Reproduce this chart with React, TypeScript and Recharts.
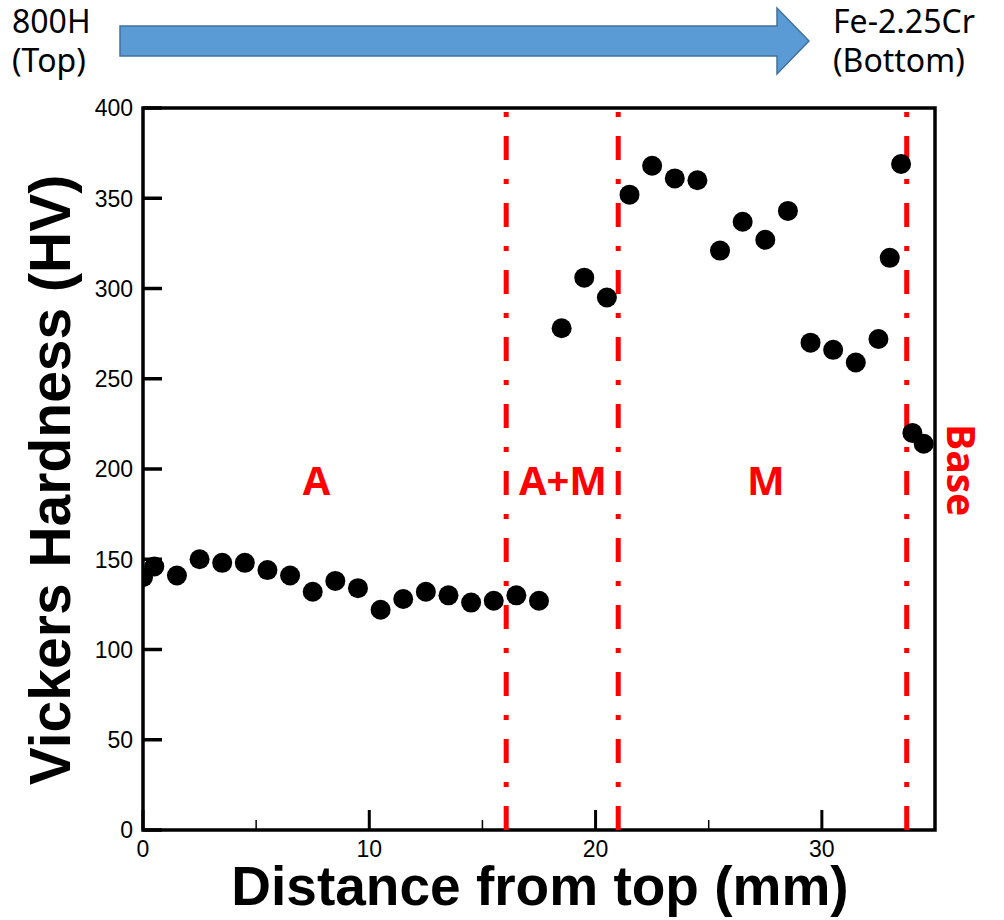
import React from 'react';
import {
  ScatterChart,
  Scatter,
  XAxis,
  YAxis,
  ReferenceLine,
  ReferenceArea,
  ReferenceDot,
} from 'recharts';

// ---- data ----
const distance = [
  0, 0.5, 1.5, 2.5, 3.5, 4.5, 5.5, 6.5, 7.5, 8.5, 9.5, 10.5, 11.5, 12.5, 13.5, 14.5, 15.5, 16.5, 17.5,
  18.5, 19.5, 20.5, 21.5, 22.5, 23.5, 24.5, 25.5, 26.5, 27.5, 28.5, 29.5, 30.5, 31.5, 32.5, 33, 33.5, 34, 34.5,
];
const hardness = [
  140, 146, 141, 150, 148, 148, 144, 141, 132, 138, 134, 122, 128, 132, 130, 126, 127, 130, 127,
  278, 306, 295, 352, 368, 361, 360, 321, 337, 327, 343, 270, 266, 259, 272, 317, 369, 220, 214,
];
const xTicks = [0, 5, 10, 15, 20, 25, 30];
const yTicks = [0, 50, 100, 150, 200, 250, 300, 350, 400];
const boundaries = [16.05, 21, 33.75];
const regionNames = ['A', 'A+M', 'M'];
const regionX = [7.67, 18.56, 27.53];
const regionY = 185.6;
const baseLabel = 'Base';
const baseX = 35.53;
const baseY = 199.4;
const xTitle = 'Distance from top (mm)';
const yTitle = 'Vickers Hardness (HV)';
const topLeft = ['800H', '(Top)'];
const topRight = ['Fe-2.25Cr', '(Bottom)'];

const data = distance.map((d, i) => ({ x: d, y: hardness[i] }));

const TICK_FONT = '"Liberation Sans", Arial, sans-serif';

const XTick = (props: any) => {
  const { x, y, payload } = props;
  const v = payload.value;
  const major = v % 10 === 0;
  return (
    <g>
      <line x1={x} x2={x} y1={y} y2={y - (major ? 20 : 10)} stroke="#000" strokeWidth={major ? 3 : 1.5} />
      {major && (
        <text x={x} y={y + 27} textAnchor="middle" fontSize={23} fontFamily={TICK_FONT} fill="#000">
          {v}
        </text>
      )}
    </g>
  );
};

const YTick = (props: any) => {
  const { x, y, payload } = props;
  return (
    <g>
      <line x1={x} x2={x + 19} y1={y} y2={y} stroke="#000" strokeWidth={3.5} />
      <text x={x - 10} y={y} dy="0.36em" textAnchor="end" fontSize={23} fontFamily={TICK_FONT} fill="#000">
        {payload.value}
      </text>
    </g>
  );
};

const Dot = (props: any) => <circle cx={props.cx} cy={props.cy} r={10} fill="#000" />;

const regionLabel = (text: string) => (props: any) => (
  <text
    x={props.cx}
    y={props.cy}
    textAnchor="middle"
    fontSize={40}
    fontWeight="bold"
    fontFamily='"Open Sans", sans-serif'
    fill="#ff0000"
  >
    {text}
  </text>
);

const baseShape = (props: any) => (
  <text
    x={props.cx}
    y={props.cy}
    transform={`rotate(90, ${props.cx}, ${props.cy})`}
    textAnchor="middle"
    fontSize={39}
    fontWeight="bold"
    fontFamily='"Open Sans", sans-serif'
    fill="#ff0000"
  >
    {baseLabel}
  </text>
);

export default function App() {
  return (
    <div style={{ position: 'absolute', left: 0, top: 0, width: 1004, height: 920, background: '#fff' }}>
      <ScatterChart
        width={1004}
        height={920}
        margin={{ top: 108, right: 69, bottom: 89, left: 142 }}
      >
        <XAxis
          type="number"
          dataKey="x"
          domain={[0, 35]}
          ticks={xTicks}
          interval={0}
          height={1}
          tickSize={0}
          tickMargin={0}
          axisLine={false}
          tickLine={false}
          tick={<XTick />}
          allowDataOverflow
        />
        <YAxis
          type="number"
          dataKey="y"
          domain={[0, 400]}
          ticks={yTicks}
          interval={0}
          width={1}
          tickSize={0}
          tickMargin={0}
          axisLine={false}
          tickLine={false}
          tick={<YTick />}
          allowDataOverflow
        />
        {boundaries.map((b) => (
          <ReferenceLine
            key={b}
            x={b}
            stroke="#ff0000"
            strokeWidth={5}
            strokeDasharray="24 19 5 19"
          />
        ))}
        <ReferenceArea x1={0} x2={35} y1={0} y2={400} fill="none" stroke="#000" strokeWidth={3.5} />
        {regionNames.map((n, i) => (
          <ReferenceDot key={n} x={regionX[i]} y={regionY} r={0} shape={regionLabel(n)} ifOverflow="visible" />
        ))}
        <ReferenceDot x={baseX} y={baseY} r={0} shape={baseShape} ifOverflow="visible" />
        <Scatter data={data} fill="#000" shape={<Dot />} isAnimationActive={false} />
      </ScatterChart>
      <svg
        width={1004}
        height={920}
        style={{ position: 'absolute', left: 0, top: 0, pointerEvents: 'none' }}
      >
        <polygon
          points="120,26 777,26 777,8 809,41 777,74 777,56 120,56"
          fill="#5b9bd5"
          stroke="#41719c"
          strokeWidth={1.5}
        />
        <g fontFamily='"Noto Sans", sans-serif' fontSize={32} fill="#000">
          <text x={12} y={33}>{topLeft[0]}</text>
          <text x={12} y={72}>{topLeft[1]}</text>
          <text x={833} y={33}>{topRight[0]}</text>
          <text x={833} y={72}>{topRight[1]}</text>
        </g>
        <text
          x={540}
          y={905}
          textAnchor="middle"
          fontSize={55}
          fontWeight="bold"
          fontFamily={TICK_FONT}
          fill="#000"
        >
          {xTitle}
        </text>
        <text
          x={70}
          y={480}
          transform="rotate(-90, 70, 480)"
          textAnchor="middle"
          fontSize={57}
          fontWeight="bold"
          fontFamily={TICK_FONT}
          fill="#000"
        >
          {yTitle}
        </text>
      </svg>
    </div>
  );
}
